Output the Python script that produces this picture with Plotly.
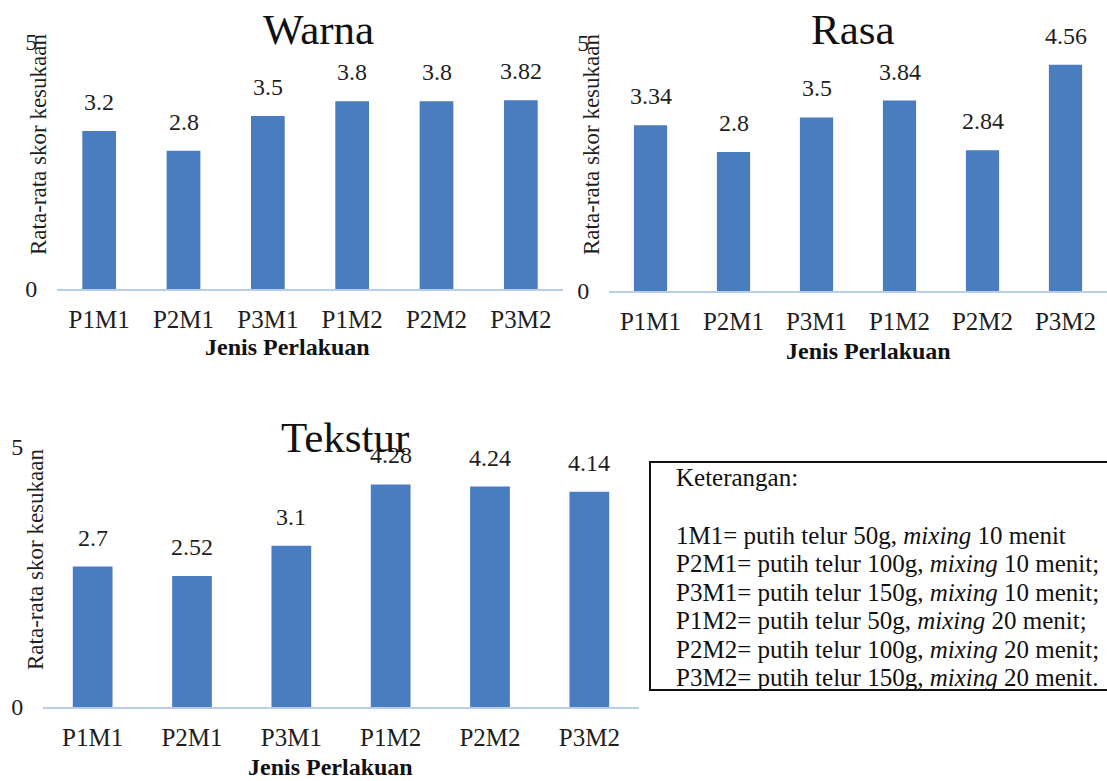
import plotly.graph_objects as go

W, H = 1107, 781

categories = ["P1M1", "P2M1", "P3M1", "P1M2", "P2M2", "P3M2"]
warna = [3.2, 2.8, 3.5, 3.8, 3.8, 3.82]
rasa = [3.34, 2.8, 3.5, 3.84, 2.84, 4.56]
tekstur = [2.7, 2.52, 3.1, 4.28, 4.24, 4.14]
label_fmt = {"warna": ["3.2", "2.8", "3.5", "3.8", "3.8", "3.82"],
             "rasa": ["3.34", "2.8", "3.5", "3.84", "2.84", "4.56"],
             "tekstur": ["2.7", "2.52", "3.1", "4.28", "4.24", "4.14"]}
titles = ["Warna", "Rasa", "Tekstur"]
y_title = "Rata-rata skor kesukaan"
x_title = "Jenis Perlakuan"
keterangan = [
    "Keterangan:",
    "1M1= putih telur 50g, <i>mixing</i> 10 menit",
    "P2M1= putih telur 100g, <i>mixing</i> 10 menit;",
    "P3M1= putih telur 150g, <i>mixing</i> 10 menit;",
    "P1M2= putih telur 50g, <i>mixing</i> 20 menit;",
    "P2M2= putih telur 100g, <i>mixing</i> 20 menit;",
    "P3M2= putih telur 150g, <i>mixing</i> 20 menit.",
]

FONT = "Liberation Serif, Times New Roman, serif"
BAR = "#4A7CC0"
AXIS_LINE = "#B7CDEA"
TXT = "#1e1e1e"


def px(x):
    return x / W


def py(y):
    return 1 - y / H


fig = go.Figure()

# panel specs: (data, labels, xdomain px, zero px, top(5) px, axis suffix)
panels = [
    (warna, label_fmt["warna"], (57, 563), 289, 42, ""),
    (rasa, label_fmt["rasa"], (609, 1107), 291, 43, "2"),
    (tekstur, label_fmt["tekstur"], (43, 639), 707, 447, "3"),
]

for data, labels, (x0, x1), y0p, y5p, sfx in panels:
    fig.add_trace(go.Bar(
        x=categories, y=data, width=0.4,
        marker=dict(color=BAR, line=dict(width=0)),
        xaxis="x" + sfx, yaxis="y" + sfx, showlegend=False,
        hoverinfo="skip",
    ))
    xa = dict(domain=[px(x0), px(x1)], anchor="y" + sfx, automargin=False,
              showline=True, linecolor=AXIS_LINE, linewidth=2,
              showgrid=False, zeroline=False, ticks="outside", ticklen=7,
              tickcolor="rgba(0,0,0,0)",
              tickfont=dict(family=FONT, size=25, color=TXT),
              range=[-0.5, 5.5], fixedrange=True)
    ya = dict(domain=[py(y0p), py(y5p)], anchor="x" + sfx, range=[0, 5],
              automargin=False,
              tickvals=[0, 5], showgrid=False, zeroline=False, showline=False,
              ticks="outside", ticklen=14, tickcolor="rgba(0,0,0,0)",
              tickfont=dict(family=FONT, size=24, color=TXT), fixedrange=True)
    fig.layout["xaxis" + sfx] = xa
    fig.layout["yaxis" + sfx] = ya
    for c, v, t in zip(categories, data, labels):
        fig.add_annotation(x=c, y=v, xref="x" + sfx, yref="y" + sfx,
                           text=t, showarrow=False, yanchor="middle",
                           yshift=29,
                           font=dict(family=FONT, size=24, color=TXT))

# titles
for t, (cx, cy) in zip(titles, [(318, 30), (853, 30), (345, 437)]):
    fig.add_annotation(x=px(cx), y=py(cy), xref="paper", yref="paper",
                       text=t, showarrow=False, xanchor="center",
                       yanchor="middle",
                       font=dict(family=FONT, size=43, color="#111"))

# y-axis titles
for cx, cy in [(38, 145), (591, 145), (35, 560)]:
    fig.add_annotation(x=px(cx), y=py(cy), xref="paper", yref="paper",
                       text=y_title, showarrow=False, textangle=-90,
                       xanchor="center", yanchor="middle",
                       font=dict(family=FONT, size=23, color=TXT))

# x-axis titles
for cx, cy in [(287, 347), (868, 351), (330, 767)]:
    fig.add_annotation(x=px(cx), y=py(cy), xref="paper", yref="paper",
                       text="<b>" + x_title + "</b>", showarrow=False,
                       xanchor="center", yanchor="middle",
                       font=dict(family=FONT, size=24, color="#111"))

# legend box
fig.add_shape(type="rect", xref="paper", yref="paper",
              x0=px(650), x1=px(1115), y0=py(690), y1=py(462),
              line=dict(color="#111", width=2), fillcolor="rgba(0,0,0,0)")
line_ys = [477, 535, 563, 592, 620, 649, 677]
for txt, ly in zip(keterangan, line_ys):
    fig.add_annotation(x=px(674), y=py(ly), xref="paper", yref="paper",
                       text=txt, showarrow=False, xanchor="left",
                       yanchor="middle", align="left",
                       font=dict(family=FONT, size=25, color="#111"))

fig.update_layout(template="none", width=W, height=H,
                  margin=dict(l=0, r=0, t=0, b=0, pad=0, autoexpand=False),
                  paper_bgcolor="white", plot_bgcolor="white",
                  font=dict(family=FONT, color=TXT),
                  bargap=0.6)

fig.write_html("out.html",
               config={"displayModeBar": False},
               post_script="document.body.style.margin='0px';"
                           "document.body.style.overflow='hidden';")
